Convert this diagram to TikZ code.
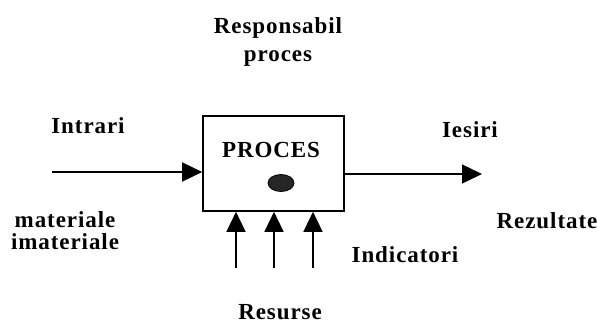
\documentclass[tikz,border=0pt]{standalone}
\usepackage{fontspec}
\setmainfont[LetterSpace=4]{Liberation Serif}
\usetikzlibrary{arrows.meta,shapes.geometric}

\tikzset{
    lbl/.style={font=\fontsize{23}{27}\selectfont\bfseries, anchor=base, inner sep=0pt},
    flow/.style={line width=1.4pt, -{Triangle[length=20pt,width=19pt]}}
}

\begin{document}
\begin{tikzpicture}[x=1pt, y=-1pt]
        \useasboundingbox (0,0) rectangle (598,325);

        % Process box
        \node[draw, line width=1.6pt, minimum width=141pt, minimum height=95pt] (proc) at (273.5,163.5) {};
        \node[lbl] (proctxt) at (271,157) {PROCES};
        \node[ellipse, fill=black!85, draw=black, line width=0.8pt, minimum width=26pt, minimum height=17pt, inner sep=0pt] (dot) at (281,183) {};

        % Top
        \node[lbl] (resp) at (278,33) {Responsabil};
        \node[lbl] (proces) at (278,61) {proces};

        % Inputs
        \node[lbl] (intrari) at (88,133) {Intrari};
        \node[lbl] (mat) at (65,227) {materiale};
        \node[lbl] (imat) at (65,249) {imateriale};
        \coordinate (inL) at (52,172);
        \draw[flow] (inL) -- (inL -| proc.west);

        % Outputs
        \node[lbl] (iesiri) at (470,137) {Iesiri};
        \node[lbl] (rez) at (547,228) {Rezultate};
        \coordinate (outR) at (482,174);
        \draw[flow] (outR -| proc.east) -- (outR);

        % Resources
        \node[lbl] (ind) at (405,262) {Indicatori};
        \node[lbl] (res) at (280,319) {Resurse};
        \foreach \x [count=\i] in {236,274,313} {
            \coordinate (r\i) at (\x,268);
            \draw[flow] (r\i) -- (r\i |- proc.south);
        }
    \end{tikzpicture}
\end{document}
